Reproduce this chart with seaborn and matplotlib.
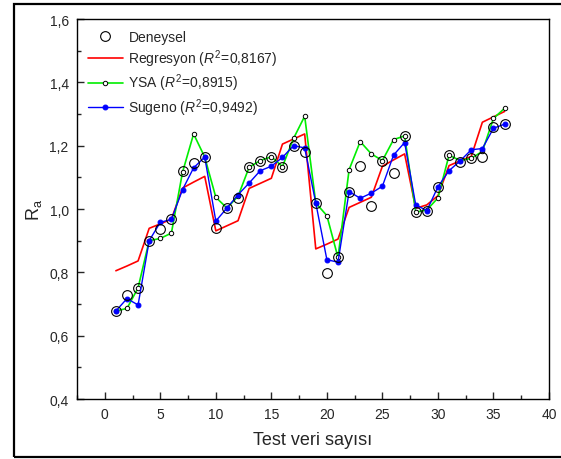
import numpy as np
import pandas as pd
import matplotlib
matplotlib.use("Agg")
import matplotlib.pyplot as plt
from matplotlib.ticker import FuncFormatter, MultipleLocator
from matplotlib.patches import Rectangle
import seaborn as sns

x = list(range(1, 37))
deneysel = [0.678, 0.729, 0.751, 0.900, 0.937, 0.968, 1.120, 1.145, 1.164, 0.941,
            1.003, 1.034, 1.132, 1.153, 1.165, 1.134, 1.200, 1.179, 1.019, 0.797, 0.847,
            1.055, 1.137, 1.010, 1.153, 1.114, 1.231, 0.990, 0.995, 1.070, 1.170, 1.149,
            1.160, 1.163, 1.258, 1.268]
regresyon = [0.805, 0.820, 0.836, 0.939, 0.953, 0.968, 1.066, 1.085, 1.103, 0.931,
             0.947, 0.963, 1.065, 1.081, 1.097, 1.205, 1.221, 1.237, 0.874, 0.889, 0.905,
             1.005, 1.021, 1.037, 1.135, 1.155, 1.174, 1.002, 1.013, 1.042, 1.137, 1.152,
             1.166, 1.274, 1.291, 1.308]
ysa = [0.678, 0.686, 0.751, 0.900, 0.907, 0.924, 1.116, 1.237, 1.164, 1.037,
       1.003, 1.040, 1.132, 1.153, 1.165, 1.134, 1.223, 1.293, 1.019, 0.979, 0.847,
       1.124, 1.213, 1.174, 1.153, 1.219, 1.231, 0.990, 0.997, 1.035, 1.170, 1.153,
       1.160, 1.182, 1.286, 1.318]
sugeno = [0.678, 0.717, 0.697, 0.900, 0.958, 0.967, 1.061, 1.130, 1.164, 0.962,
          1.003, 1.045, 1.082, 1.121, 1.135, 1.163, 1.200, 1.193, 1.019, 0.840, 0.832,
          1.055, 1.034, 1.050, 1.072, 1.170, 1.210, 1.013, 0.995, 1.070, 1.121, 1.152,
          1.187, 1.191, 1.255, 1.268]

labels = ["Deneysel",
          r"Regresyon $\mathit{(R^2\!=\!0{,}8167)}$",
          r"YSA $\mathit{(R^2\!=\!0{,}8915)}$",
          r"Sugeno $\mathit{(R^2\!=\!0{,}9492)}$"]

sns.set_style("ticks")
plt.rcParams["font.family"] = ["Liberation Sans", "DejaVu Sans"]
plt.rcParams["mathtext.fontset"] = "custom"
plt.rcParams["mathtext.rm"] = "Liberation Sans"
plt.rcParams["mathtext.it"] = "Liberation Sans:italic"
plt.rcParams["mathtext.bf"] = "Liberation Sans:bold"

fig = plt.figure(figsize=(5.61, 4.60), dpi=100)
ax = fig.add_axes([77/561, 60/460, (549-77)/561, (400-20)/460])

sns.lineplot(x=x, y=regresyon, ax=ax, color="#ff0000", linewidth=1.2, label=labels[1], zorder=2)
sns.lineplot(x=x, y=ysa, ax=ax, color="#00ee00", linewidth=1.2, marker="o", markersize=3.2,
             markerfacecolor="white", markeredgecolor="black", markeredgewidth=0.7,
             label=labels[2], zorder=3)
sns.lineplot(x=x, y=sugeno, ax=ax, color="#0000ff", linewidth=1.0, marker="o", markersize=3.5,
             markerfacecolor="#0000ff", markeredgecolor="#0000ff", label=labels[3], zorder=4)
ax.plot(x, deneysel, linestyle="none", marker="o", markersize=7, markerfacecolor="none",
        markeredgecolor="black", markeredgewidth=0.8, label=labels[0], zorder=5)

ax.set_xlim(-2.5, 40)
ax.set_ylim(0.4, 1.6)
ax.xaxis.set_major_locator(MultipleLocator(5))
ax.xaxis.set_minor_locator(MultipleLocator(2.5))
ax.yaxis.set_major_locator(MultipleLocator(0.2))
ax.yaxis.set_minor_locator(MultipleLocator(0.1))
ax.yaxis.set_major_formatter(FuncFormatter(lambda v, p: f"{v:.1f}".replace(".", ",")))
ax.xaxis.set_major_formatter(FuncFormatter(lambda v, p: f"{int(round(v))}"))
ax.tick_params(which="major", direction="in", length=5, width=1, labelsize=10, pad=6)
ax.tick_params(which="minor", direction="in", length=3, width=1)
ax.tick_params(top=False, right=False, which="both")
for s in ax.spines.values():
    s.set_visible(True)
    s.set_color("black")
    s.set_linewidth(1.0)

ax.set_xlabel("Test veri sayısı", fontsize=13, labelpad=7)
ax.set_ylabel(r"R$_\mathregular{a}$", fontsize=13, labelpad=4)

handles, lbls = ax.get_legend_handles_labels()
order = [lbls.index(l) for l in labels]
ax.legend([handles[i] for i in order], [lbls[i] for i in order], loc="upper left",
          frameon=False, fontsize=10, handlelength=2.5, labelspacing=0.22,
          handletextpad=0.4, borderaxespad=0.5, borderpad=0.3, bbox_to_anchor=(0.0, 1.0))

fig.patches.append(Rectangle((14/561, 2/460), 1.0, 453/460, transform=fig.transFigure,
                             fill=False, edgecolor="black", linewidth=1.6))

fig.savefig("out.png", dpi=100)
